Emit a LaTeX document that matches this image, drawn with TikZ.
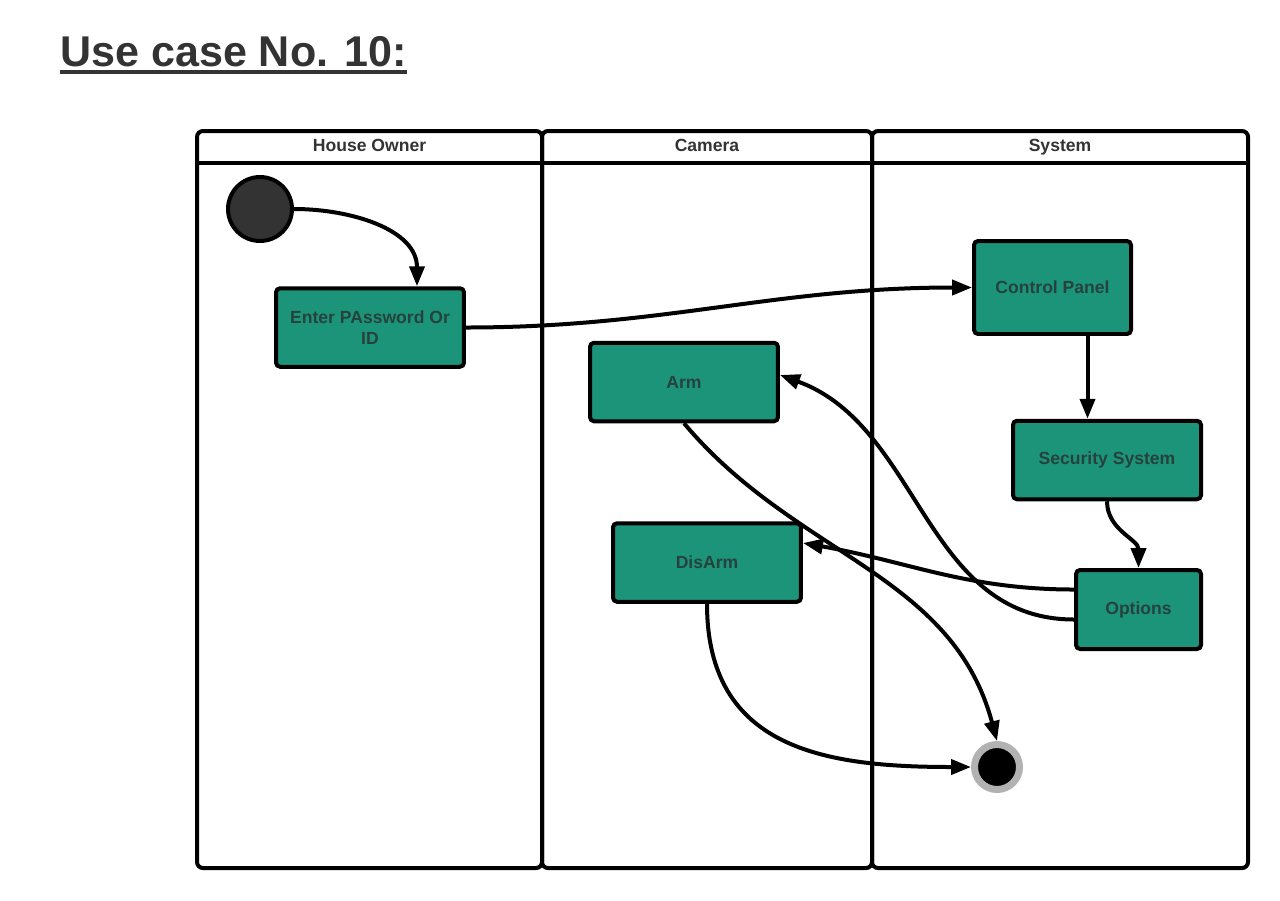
\documentclass[tikz,border=0pt]{standalone}
\usepackage{fontspec}
\setmainfont{Liberation Sans}
\usetikzlibrary{arrows.meta}
\definecolor{actgreen}{RGB}{28,148,122}
\definecolor{acttext}{RGB}{38,66,60}
\definecolor{inkgray}{RGB}{51,51,51}
\definecolor{ringgray}{RGB}{178,178,178}
\tikzset{
  lane/.style={line width=0.08cm, rounded corners=0.12cm},
  lanehead/.style={text=inkgray, text height=1.5ex, text depth=0.25ex,
    font=\bfseries\fontsize{10}{12}\selectfont},
  act/.style={draw, line width=0.08cm, fill=actgreen, rounded corners=0.08cm,
    minimum width=3.76cm, minimum height=1.57cm, align=center,
    text=acttext, font=\bfseries\fontsize{10}{12}\selectfont},
  flow/.style={line width=0.08cm, -{Triangle[length=0.4cm,width=0.3cm]}},
}
\begin{document}
\begin{tikzpicture}[x=0.02cm,y=-0.02cm]%use case 10
\useasboundingbox (0,0) rectangle (1280,900);
\node[anchor=base west, inner sep=0pt, text=inkgray,
  font=\bfseries\fontsize{24.5}{30}\selectfont] (title) at (60,66) {Use case No. 10:};
\draw[line width=0.08cm, inkgray] ([yshift=-0.12cm]title.base west) -- ([yshift=-0.12cm]title.base east);
% swimlanes
\foreach \l/\r in {197/542, 542/872, 872/1248} {
  \draw[lane] (\l,131) rectangle (\r,868);
  \draw[line width=0.08cm] (\l,163) -- (\r,163);
}
\node[lanehead] (owner) at (369.5,146) {House Owner};
\node[lanehead] (camera) at (707,146) {Camera};
\node[lanehead] (system) at (1060,146) {System};
% activities
\node[circle, draw, line width=0.08cm, fill=inkgray, minimum size=1.28cm, inner sep=0pt] (start) at (260,209) {};
\node[act] (pw) at (370,327.5) {Enter PAssword Or\\ID};
\node[act, minimum width=3.14cm, minimum height=1.86cm] (cp) at (1052.5,287.5) {Control Panel};
\node[act] (ss) at (1107,460) {Security System};
\node[act, minimum width=2.5cm, minimum height=1.58cm] (opt) at (1138.5,609.5) {Options};
\node[act] (arm) at (684,382) {Arm};
\node[act] (disarm) at (707,562.5) {DisArm};
\node[circle, draw=ringgray, line width=0.14cm, fill=black, minimum size=0.9cm, inner sep=0pt] (end) at (997,767) {};
\coordinate (cpout) at ([xshift=0.7cm]cp.south);
% flows
\draw[flow] (start.east) to[out=0,in=90] ([xshift=0.94cm]pw.north);
\draw[flow] (pw.east) to[out=0,in=180] (cp.west);
\draw[flow] (cpout) -- (cpout |- ss.north);
\draw[flow] (ss.south) to[out=-90,in=90] (opt.north);
\draw[flow] ([yshift=0.4cm]opt.west) to[out=180,in=-10] ([yshift=0.39cm]disarm.east);
\draw[flow] ([yshift=-0.2cm]opt.west) to[out=180,in=-20] ([yshift=0.14cm]arm.east);
\draw[flow] (arm.south) to[out=-50,in=105] (end.north);
\draw[flow] (disarm.south) to[out=-90,in=180,looseness=1.2] (end.west);
\end{tikzpicture}
\end{document}
